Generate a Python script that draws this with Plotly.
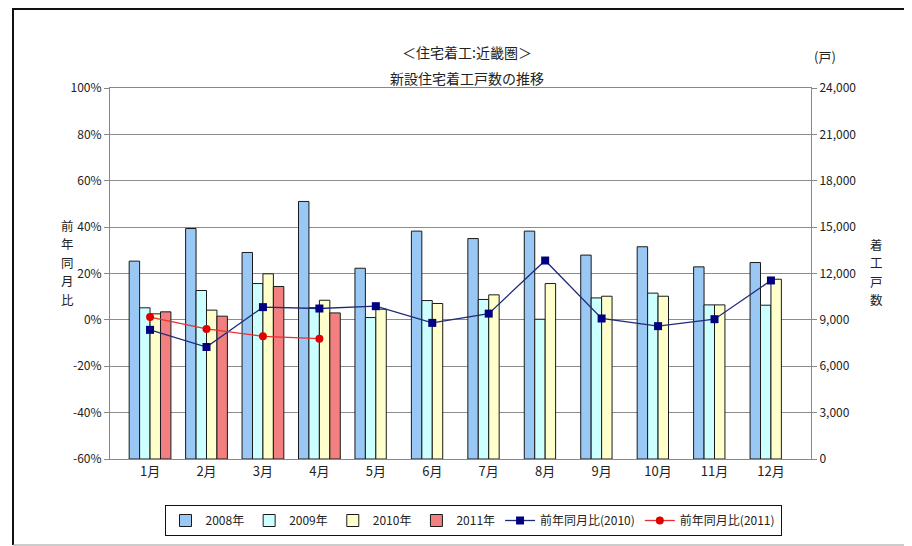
import plotly.graph_objects as go

months = ["1月", "2月", "3月", "4月", "5月", "6月", "7月", "8月", "9月", "10月", "11月", "12月"]
s2008 = [12800, 14910, 13360, 16660, 12340, 14740, 14260, 14740, 13190, 13730, 12430, 12710]
s2009 = [9780, 10900, 11350, 9790, 9150, 10250, 10320, 9040, 10420, 10730, 9970, 9950]
s2010 = [9390, 9630, 11980, 10270, 9690, 10060, 10620, 11350, 10530, 10530, 9970, 11630]
s2011 = [9520, 9240, 11160, 9450, None, None, None, None, None, None, None, None]
yoy2010 = [-4.3, -11.7, 5.5, 4.9, 5.9, -1.3, 2.7, 25.6, 0.6, -2.7, 0.3, 17.0]
yoy2011 = [1.2, -3.9, -7.1, -8.1, None, None, None, None, None, None, None, None]

pct_ticks = [-60, -40, -20, 0, 20, 40, 60, 80, 100]
pct_text = ["-60%", "-40%", "-20%", "0%", "20%", "40%", "60%", "80%", "100%"]
cnt_ticks = [0, 3000, 6000, 9000, 12000, 15000, 18000, 21000, 24000]
cnt_text = ["0", "3,000", "6,000", "9,000", "12,000", "15,000", "18,000", "21,000", "24,000"]

left_title = "前年同月比"
right_title = "着工戸数"

FONT = "Noto Sans CJK JP"
fig = go.Figure()

bar_series = [("2008年", s2008, "#99C8F5"), ("2009年", s2009, "#CCFFFF"),
              ("2010年", s2010, "#FFFFCC"), ("2011年", s2011, "#F28080")]
for name, vals, col in bar_series:
    fig.add_trace(go.Bar(x=months, y=vals, name=name, yaxis="y",
                         marker=dict(color=col, line=dict(color="#1a1a1a", width=1))))

fig.add_trace(go.Scatter(x=months, y=yoy2010, name="前年同月比(2010)", yaxis="y2",
                         mode="lines+markers",
                         line=dict(color="#1F2A7A", width=1.3),
                         marker=dict(symbol="square", size=8, color="#000080")))
fig.add_trace(go.Scatter(x=months, y=yoy2011, name="前年同月比(2011)", yaxis="y2",
                         mode="lines+markers",
                         line=dict(color="#E83030", width=1.3),
                         marker=dict(symbol="circle", size=8, color="#E00000")))

# the page body adds an 8px offset; screen coordinates below are compensated
OFF = 8
W, H = 912, 546
L, T = 110 - OFF, 88 - OFF
pw, ph = 701, 371
R = W - L - pw
B = H - T - ph

def px(x):
    return (x - OFF - L) / pw

def py(y):
    return (T + ph - (y - OFF)) / ph

annots = [
    dict(text="＜住宅着工:近畿圏＞", x=px(467), y=py(40), xref="paper", yref="paper",
         showarrow=False, font=dict(size=14, family=FONT)),
    dict(text="新設住宅着工戸数の推移", x=px(467), y=py(66), xref="paper", yref="paper",
         showarrow=False, font=dict(size=14, family=FONT)),
    dict(text="(戸)", x=px(838), y=py(45), xref="paper", yref="paper",
         showarrow=False, font=dict(size=13, family=FONT)),
]
for i, ch in enumerate(left_title):
    annots.append(dict(text=ch, x=px(60), y=py(225 + i * 18.4), xref="paper", yref="paper",
                       showarrow=False, font=dict(size=12.5, family=FONT),
                       borderpad=0, height=16))
for i, ch in enumerate(right_title):
    annots.append(dict(text=ch, x=px(884), y=py(244 + i * 18.4), xref="paper", yref="paper",
                       showarrow=False, font=dict(size=12.5, family=FONT),
                       borderpad=0, height=16))

fig.update_layout(
    width=W, height=H,
    margin=dict(l=L, r=R, t=T, b=B, pad=0, autoexpand=False),
    paper_bgcolor="white", plot_bgcolor="white",
    font=dict(family=FONT, size=12, color="#222222"),
    barmode="group", bargap=0.26, bargroupgap=0,
    showlegend=True,
    legend=dict(orientation="h", x=px(473), xanchor="center", y=py(505), yanchor="top",
                bordercolor="#111111", borderwidth=1, bgcolor="white",
                font=dict(family=FONT, size=12), itemwidth=30, traceorder="normal"),
    xaxis=dict(showgrid=False, showline=True, linecolor="#888888", mirror=True,
               ticks="", tickfont=dict(size=13), automargin=False),
    yaxis=dict(side="right", range=[0, 24000], tickvals=cnt_ticks, ticktext=cnt_text,
               showgrid=True, gridcolor="#8c8c8c", gridwidth=1,
               showline=True, linecolor="#888888", ticks="outside", ticklen=5,
               tickcolor="#888888", tickfont=dict(size=12), zeroline=False,
               automargin=False),
    yaxis2=dict(side="left", overlaying="y", range=[-60, 100], tickvals=pct_ticks,
                ticktext=pct_text, showgrid=False, showline=True, linecolor="#888888",
                ticks="outside", ticklen=5, tickcolor="#888888",
                tickfont=dict(size=12), zeroline=False, automargin=False),
    annotations=annots,
    shapes=[
        dict(type="line", xref="paper", yref="paper", x0=px(13), x1=px(925),
             y0=py(9), y1=py(9), line=dict(color="#111111", width=2)),
        dict(type="line", xref="paper", yref="paper", x0=px(13), x1=px(13),
             y0=py(8), y1=py(545), line=dict(color="#111111", width=2)),
        dict(type="line", xref="paper", yref="paper", x0=px(13), x1=px(925),
             y0=py(545), y1=py(545), line=dict(color="#999999", width=1)),
    ],
)

fig.write_html("out.html")
